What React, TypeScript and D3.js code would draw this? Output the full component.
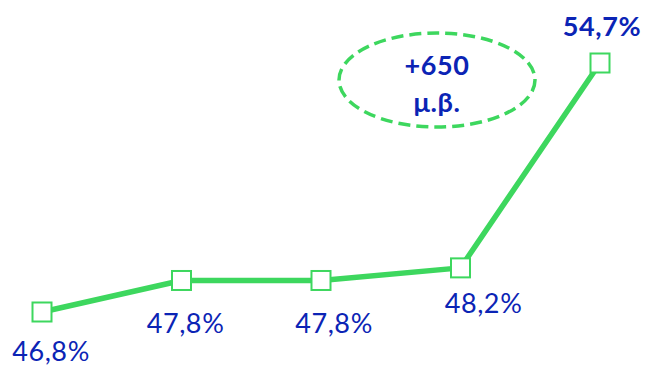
import React from "react";
import * as d3 from "d3";

const categories = ["p1", "p2", "p3", "p4", "p5"];
const values = [46.8, 47.8, 47.8, 48.2, 54.7];
const valueLabels = ["46,8%", "47,8%", "47,8%", "48,2%", "54,7%"];
const labelDx = [9, 4, 13, 23, 2];
const labelDy = [48.5, 52.5, 52.5, 45, -27.5];
const boldLabel = [false, false, false, false, true];
const noteLines = ["+650", "μ.β."];

const W = 657;
const H = 365;
const GREEN = "#3dd75e";
const BLUE = "#0b24b5";
const FONT = "Lato, 'Open Sans', sans-serif";

export default function App() {
  const x = d3.scalePoint<string>().domain(categories).range([42, 600]);
  const y = d3.scaleLinear().domain([46.8, 54.7]).range([312, 63]);
  const line = d3
    .line<number>()
    .x((_, i) => x(categories[i]) as number)
    .y((d) => y(d));
  const s = 19;
  return (
    <svg
      width={W}
      height={H}
      style={{ position: "absolute", left: 0, top: 0, background: "#fff" }}
    >
      <path d={line(values) || ""} fill="none" stroke={GREEN} strokeWidth={5.5} strokeLinejoin="round" />
      {values.map((v, i) => (
        <rect
          key={"m" + i}
          x={(x(categories[i]) as number) - s / 2}
          y={y(v) - s / 2}
          width={s}
          height={s}
          fill="#fff"
          stroke={GREEN}
          strokeWidth={2}
        />
      ))}
      {values.map((v, i) => (
        <text
          key={"l" + i}
          x={(x(categories[i]) as number) + labelDx[i]}
          y={y(v) + labelDy[i]}
          textAnchor="middle"
          fontFamily={FONT}
          fontSize={27}
          letterSpacing={0.6}
          fontWeight={boldLabel[i] ? 700 : 400}
          fill={BLUE}
        >
          {valueLabels[i]}
        </text>
      ))}
      <ellipse
        cx={437}
        cy={80}
        rx={98}
        ry={47}
        fill="none"
        stroke={GREEN}
        strokeWidth={3.5}
        strokeDasharray="12 6"
      />
      {noteLines.map((t, i) => (
        <text
          key={"n" + i}
          x={437}
          y={75 + i * 37}
          textAnchor="middle"
          fontFamily={FONT}
          fontSize={27}
          letterSpacing={0.6}
          fontWeight={700}
          fill={BLUE}
        >
          {t}
        </text>
      ))}
    </svg>
  );
}
